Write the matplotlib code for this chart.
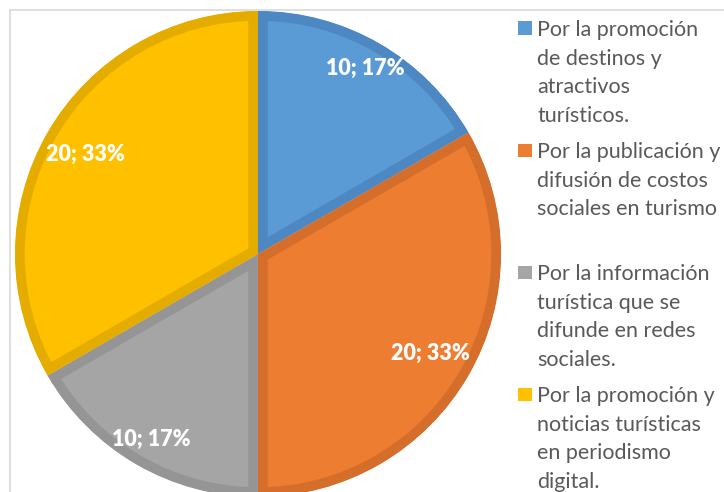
import numpy as np
import matplotlib.pyplot as plt
from matplotlib.lines import Line2D
from matplotlib.patches import Rectangle

# datos del gráfico (respuestas por tipo de información turística)
categorias = [
    "Por la promoción\nde destinos y\natractivos\nturísticos.",
    "Por la publicación y\ndifusión de costos\nsociales en turismo",
    "Por la información\nturística que se\ndifunde en redes\nsociales.",
    "Por la promoción y\nnoticias turísticas\nen periodismo\ndigital.",
]
valores = [10, 20, 10, 20]
colores = ["#5B9BD5", "#ED7D31", "#A5A5A5", "#FFC000"]
bordes = ["#4D88C2", "#D66E2B", "#959595", "#E5AC00"]

W, H = 724, 492
plt.rcParams['font.family'] = ['Lato', 'DejaVu Sans']
fig = plt.figure(figsize=(W / 100, H / 100), dpi=100)

# pie: centre (258, 254) px, radius 243 px
cx, cy, r = 258, 254, 243
ax = fig.add_axes([(cx - r) / W, (H - cy - r) / H, 2 * r / W, 2 * r / H])
total = sum(valores)

wedges, texts, autotexts = ax.pie(
    valores, colors=colores, startangle=90, counterclock=False,
    autopct=lambda p: f"{round(p * total / 100):.0f}; {p:.0f}%",
    pctdistance=0.85,
    textprops=dict(color="white", fontsize=15.5, fontweight="heavy"),
    wedgeprops=dict(linewidth=14),
)
# each slice keeps its own darker border inside itself
for w, c in zip(wedges, bordes):
    w.set_edgecolor(c)
    w.set_clip_on(True)
    w.set_clip_path(w)

# label distances like Excel's best fit
dist = [0.88, 0.82, 0.88, 0.82]
for w, t, d in zip(wedges, autotexts, dist):
    ang = np.deg2rad((w.theta1 + w.theta2) / 2)
    t.set_position((d * np.cos(ang), d * np.sin(ang)))

ax.set_xlim(-1, 1)
ax.set_ylim(-1, 1)
ax.axis("off")

# legend drawn by hand
def px(x, y):
    return x / W, 1 - y / H

line_h = 28.7
for i, (lab, col) in enumerate(zip(categorias, colores)):
    base = 36 + i * 122
    x0, y0 = px(518, base)
    fig.patches.append(Rectangle((x0, y0 + 1 / H), 13.5 / W, 13.5 / H,
                                 transform=fig.transFigure, facecolor=col,
                                 edgecolor="none"))
    for j, linea in enumerate(lab.split("\n")):
        tx, ty = px(537, base + j * line_h)
        fig.text(tx, ty, linea, fontsize=15.5, color="#595959",
                 va="baseline", ha="left")

# chart-area frame (top and left edge visible)
fig.lines.append(Line2D([10 / W, 1], [1 - 9.5 / H, 1 - 9.5 / H],
                        transform=fig.transFigure, color="#D9D9D9", lw=1.2))
fig.lines.append(Line2D([10 / W, 10 / W], [0, 1 - 9.5 / H],
                        transform=fig.transFigure, color="#D9D9D9", lw=1.2))

fig.savefig("out.png", dpi=100)
